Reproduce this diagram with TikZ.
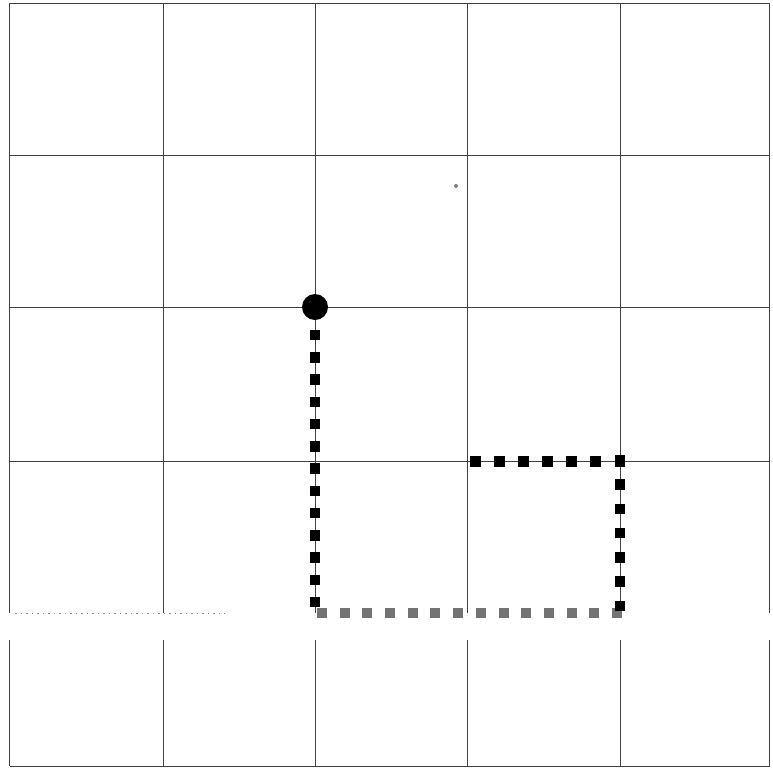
\documentclass[tikz,border=0pt]{standalone}
\begin{document}
\begin{tikzpicture}[x=1pt,y=-1pt]
\tikzset{
  gridline/.style={draw=black!75, line width=0.7pt},
  faintline/.style={draw=black!45, line width=0.6pt, dash pattern=on 1.5pt off 4pt},
  blackdash/.style={draw=black, line width=10.5pt, line cap=butt},
  graydash/.style={draw=black!55, line width=10pt, line cap=butt},
  dotnode/.style={circle, fill=black, minimum size=26pt, inner sep=0pt},
}
\useasboundingbox[fill=white] (0,0) rectangle (773,769);
% grid
\foreach \x in {9.5,163,315,467.5,620,769.5} {
  \draw[gridline] (\x,3) -- (\x,613);
  \draw[gridline] (\x,640) -- (\x,766);
}
\foreach \y in {3,155,307,461.5,766} {
  \draw[gridline] (9.5,\y) -- (769.5,\y);
}
\draw[faintline] (15,613) -- (225,613);
\fill[black!50] (456,186) circle (2pt);
% path
\node[dotnode] (start) at (315,307) {};
\coordinate (v1) at (315,329.75);
\coordinate (v2) at (315,607.25);
\coordinate (b1) at (317,613);
\coordinate (b2) at (622,613);
\coordinate (r1) at (620,611);
\coordinate (r2) at (620,455);
\coordinate (t1) at (625,461.5);
\coordinate (t2) at (469,461.5);
\draw[blackdash, dash pattern=on 10.5pt off 11.75pt] (v1) -- (v2);
\draw[graydash, dash pattern=on 10pt off 12.69pt] (b1) -- (b2);
\draw[blackdash, dash pattern=on 10.5pt off 13.75pt] (r1) -- (r2);
\draw[blackdash, dash pattern=on 10.5pt off 13.58pt] (t1) -- (t2);
\end{tikzpicture}
\end{document}
